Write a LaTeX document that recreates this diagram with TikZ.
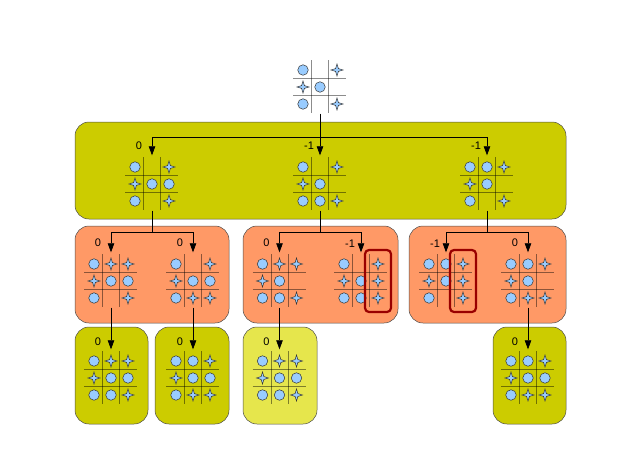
\documentclass[tikz,border=0pt]{standalone}
\usepackage{fontspec}
\setmainfont{Liberation Sans}
\usetikzlibrary{calc,shapes.geometric,arrows.meta}

\definecolor{lvlyellow}{HTML}{CCCC00}
\definecolor{lvlpale}{HTML}{E6E64C}
\definecolor{lvlsalmon}{HTML}{FF9966}
\definecolor{pieceblue}{HTML}{99CCFF}
\definecolor{winred}{HTML}{990000}

\tikzset{
  board/.style={inner sep=0pt,minimum size=53pt},
  gridline/.style={draw=black,opacity=0.45,line width=0.9pt},
  opiece/.style={circle,draw=black!80,fill=pieceblue,line width=0.5pt,inner sep=0pt,minimum size=10.5pt},
  xpiece/.style={star,star points=4,star point ratio=3,draw=black!80,fill=pieceblue,line width=0.5pt,inner sep=0pt,minimum size=12pt},
  valbox/.style={draw=black!70,line width=0.5pt,rounded corners=14pt,inner sep=0pt,minimum height=97pt},
  winbox/.style={draw=winred,line width=2.2pt,rounded corners=4pt,inner sep=0pt,minimum width=26pt,minimum height=62pt},
  treeline/.style={draw=black,line width=0.7pt},
  treearrow/.style={treeline,-{Triangle[length=9pt,width=6.5pt]},shorten >=2pt},
  score/.style={font=\fontsize{11}{12}\selectfont,inner sep=0pt},
}

% board: name, centre, nine cells (o, x or e)
\newcommand{\tttboard}[3]{%
  \node[board] (#1) at (#2) {};
  \foreach \d in {-8.5,8.5} {
    \draw[gridline] ($(#1)+(\d,-27)$) -- ($(#1)+(\d,26)$);
    \draw[gridline] ($(#1)+(-27,\d)$) -- ($(#1)+(26,\d)$);
  }
  \foreach \m [count=\i from 0] in {#3} {
    \pgfmathsetmacro\px{17*(mod(\i,3)-1)}
    \pgfmathsetmacro\py{17*(floor(\i/3)-1)}
    \if\m o\node[opiece] (#1-\i) at ($(#1)+(\px,\py)$) {};\fi
    \if\m x\node[xpiece] (#1-\i) at ($(#1)+(\px,\py)$) {};\fi
  }
}

\begin{document}
\begin{tikzpicture}[x=1pt,y=-1pt]
	\useasboundingbox (0,0) rectangle (640,453);
	% levels
	\node[valbox,fill=lvlyellow,minimum width=491pt] (lvl1) at (320.5,170.5) {};
	\node[valbox,fill=lvlsalmon,minimum width=154pt] (lvl2a) at (152,274.5) {};
	\node[valbox,fill=lvlsalmon,minimum width=155pt] (lvl2b) at (320.5,274.5) {};
	\node[valbox,fill=lvlsalmon,minimum width=157pt] (lvl2c) at (487.5,274.5) {};
	\node[valbox,fill=lvlyellow,minimum width=73pt] (lvl3a) at (111.5,375.5) {};
	\node[valbox,fill=lvlyellow,minimum width=74pt] (lvl3b) at (192,375.5) {};
	\node[valbox,fill=lvlpale,minimum width=74pt] (lvl3c) at (280,375.5) {};
	\node[valbox,fill=lvlyellow,minimum width=73pt] (lvl3d) at (529.5,375.5) {};
	% boards
	\tttboard{b0}{320,87}{o,e,x,x,o,e,o,e,x}
	\tttboard{b1}{152,184}{o,e,x,x,o,o,o,e,x}
	\tttboard{b2}{320,184}{o,e,x,x,o,e,o,o,x}
	\tttboard{b3}{487,184}{o,o,x,x,o,e,o,e,x}
	\tttboard{b11}{111,281}{o,x,x,x,o,o,o,e,x}
	\tttboard{b12}{193,281}{o,e,x,x,o,o,o,x,x}
	\tttboard{b21}{279.5,281}{o,x,x,x,o,e,o,o,x}
	\tttboard{b22}{361,281}{o,e,x,x,o,x,o,o,x}
	\tttboard{b31}{446,281}{o,o,x,x,o,x,o,e,x}
	\tttboard{b32}{528,281}{o,o,x,x,o,e,o,x,x}
	\tttboard{b111}{111,378}{o,x,x,x,o,o,o,o,x}
	\tttboard{b121}{193,378}{o,o,x,x,o,o,o,x,x}
	\tttboard{b211}{279.5,378}{o,x,x,x,o,o,o,o,x}
	\tttboard{b321}{528,378}{o,o,x,x,o,o,o,x,x}
	\node[winbox] (win1) at ($(b22)+(17,0)$) {};
	\node[winbox] (win2) at ($(b31)+(17,0)$) {};
	% tree
	\coordinate (j0) at (320,137);
	\coordinate (j1) at (152,232);
	\coordinate (j2) at (320,232);
	\coordinate (j3) at (487,232);
	\draw[treeline] (b0.south) -- (j0);
	\draw[treearrow] (j0) -| (b1.north);
	\draw[treearrow] (j0) -- (b2.north);
	\draw[treearrow] (j0) -| (b3.north);
	\draw[treeline] (b1.south) -- (j1);
	\draw[treeline] (b2.south) -- (j2);
	\draw[treeline] (b3.south) -- (j3);
	\draw[treearrow] (j1) -| (b11.north);
	\draw[treearrow] (j1) -| (b12.north);
	\draw[treearrow] (j2) -| (b21.north);
	\draw[treearrow] (j2) -| (b22.north);
	\draw[treearrow] (j3) -| (b31.north);
	\draw[treearrow] (j3) -| (b32.north);
	\draw[treearrow] (b11.south) -- (b111.north);
	\draw[treearrow] (b12.south) -- (b121.north);
	\draw[treearrow] (b21.south) -- (b211.north);
	\draw[treearrow] (b32.south) -- (b321.north);
	% values
	\node[score] (v1) at ($(b1)+(-13,-38)$) {0};
	\node[score] (v2) at ($(b2)+(-11,-38)$) {-1};
	\node[score] (v3) at ($(b3)+(-11,-38)$) {-1};
	\node[score] (v11) at ($(b11)+(-13,-38)$) {0};
	\node[score] (v12) at ($(b12)+(-13,-38)$) {0};
	\node[score] (v21) at ($(b21)+(-13,-38)$) {0};
	\node[score] (v22) at ($(b22)+(-11,-37)$) {-1};
	\node[score] (v31) at ($(b31)+(-11,-37)$) {-1};
	\node[score] (v32) at ($(b32)+(-13,-38)$) {0};
	\node[score] (v111) at ($(b111)+(-13,-36)$) {0};
	\node[score] (v121) at ($(b121)+(-13,-36)$) {0};
	\node[score] (v211) at ($(b211)+(-13,-36)$) {0};
	\node[score] (v321) at ($(b321)+(-13,-36)$) {0};
\end{tikzpicture}
\end{document}
